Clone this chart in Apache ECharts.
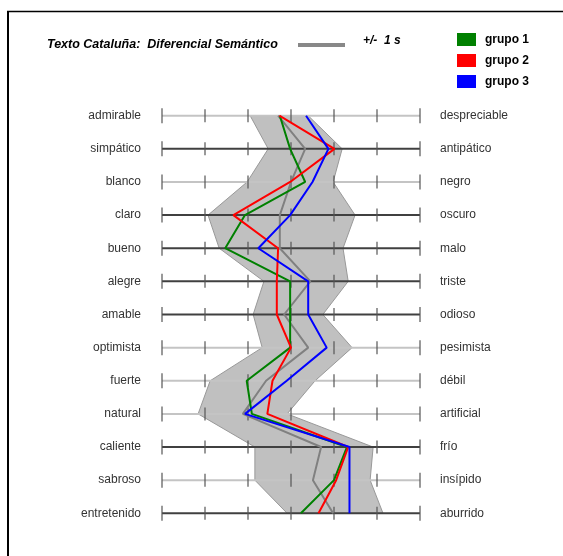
<!DOCTYPE html>
<html>
<head>
<meta charset="utf-8">
<script src="https://cdn.jsdelivr.net/npm/echarts@6/dist/echarts.min.js"></script>
<style>
html,body{margin:0;padding:0;background:#fff;}
#chart{width:563px;height:556px;}
</style>
</head>
<body>
<div id="chart"></div>
<script>
// ---- data ----
const leftLabels = ['admirable','simpático','blanco','claro','bueno','alegre','amable','optimista','fuerte','natural','caliente','sabroso','entretenido'];
const rightLabels = ['despreciable','antipático','negro','oscuro','malo','triste','odioso','pesimista','débil','artificial','frío','insípido','aburrido'];
const scaleTicks = [1, 2, 3, 4, 5, 6, 7];
const meanVals = [3.70, 4.33, 4.00, 3.74, 3.74, 4.45, 3.84, 4.40, 3.42, 2.88, 4.70, 4.51, 4.98];
const bandLow  = [3.05, 3.47, 2.98, 2.07, 2.33, 3.37, 3.12, 3.33, 2.12, 1.84, 3.16, 3.16, 3.91];
const bandHigh = [4.40, 5.19, 4.98, 5.49, 5.21, 5.33, 4.74, 5.42, 4.56, 3.91, 5.91, 5.84, 6.14];
const grupo1 = [3.74, 3.98, 4.33, 2.93, 2.47, 3.98, 3.98, 3.98, 2.97, 3.09, 5.30, 5.00, 4.23];
const grupo2 = [3.73, 5.01, 3.98, 2.66, 3.70, 3.67, 3.67, 4.00, 3.57, 3.45, 5.33, 5.05, 4.64];
const grupo3 = [4.35, 4.87, 4.50, 3.98, 3.24, 4.40, 4.40, 4.83, 3.90, 2.93, 5.36, 5.36, 5.36];

// ---- styles ----
const rowTone = ['light','dark','light','dark','dark','dark','dark','light','light','light','dark','light','dark'];
const toneColor = { light: '#c4c4c4', dark: '#404040' };
const FONT = '"Liberation Sans", Arial, sans-serif';

const chart = echarts.init(document.getElementById('chart'), null, { renderer: 'canvas' });

const option = {
  animation: false,
  backgroundColor: '#ffffff',
  grid: { left: 162, right: 143, top: 115.7, bottom: 42.7, containLabel: false },
  xAxis: { type: 'value', min: 1, max: 7, interval: 1, show: false },
  yAxis: [
    { type: 'category', data: leftLabels, inverse: true, boundaryGap: false, position: 'left',
      axisLine: { show: false }, axisTick: { show: false }, splitLine: { show: false },
      axisLabel: { margin: 21, fontSize: 12, color: '#333', fontFamily: FONT } },
    { type: 'category', data: rightLabels, inverse: true, boundaryGap: false, position: 'right',
      axisLine: { show: false }, axisTick: { show: false }, splitLine: { show: false },
      axisLabel: { margin: 20, fontSize: 12, color: '#333', fontFamily: FONT } }
  ],
  legend: {
    orient: 'vertical', left: 457, top: 33, padding: 0, itemWidth: 19, itemHeight: 13, itemGap: 8,
    icon: 'rect', data: ['grupo 1', 'grupo 2', 'grupo 3'],
    textStyle: { fontSize: 12, fontWeight: 'bold', color: '#000', fontFamily: FONT, padding: [0, 0, 0, 4] }
  },
  graphic: [
    { type: 'line', shape: { x1: 8, y1: 11, x2: 8, y2: 556 }, style: { stroke: '#000', lineWidth: 2 }, z: 100 },
    { type: 'line', shape: { x1: 7, y1: 11.5, x2: 563, y2: 11.5 }, style: { stroke: '#000', lineWidth: 1.5 }, z: 100 },
    { type: 'text', left: 47, top: 38, style: { text: 'Texto Cataluña:  Diferencial Semántico', font: 'italic bold 12.5px ' + FONT, fill: '#000' } },
    { type: 'rect', shape: { x: 298, y: 43, width: 47, height: 4 }, style: { fill: '#888' } },
    { type: 'text', left: 363, top: 35, style: { text: '+/-  1 s', font: 'italic bold 12px ' + FONT, fill: '#000' } }
  ],
  series: [
    {
      type: 'custom', name: 'band', yAxisIndex: 0, z: 1, silent: true,
      data: [[0]],
      renderItem: function (params, api) {
        const pts = [];
        for (let i = 0; i < bandLow.length; i++) pts.push(api.coord([bandLow[i], i]));
        for (let i = bandHigh.length - 1; i >= 0; i--) pts.push(api.coord([bandHigh[i], i]));
        return { type: 'polygon', shape: { points: pts }, style: { fill: '#c0c0c0', stroke: '#999', lineWidth: 1 } };
      }
    },
    {
      type: 'custom', name: 'rows', yAxisIndex: 0, z: 2, silent: true,
      data: leftLabels.map((_, i) => [i]),
      renderItem: function (params, api) {
        const i = api.value(0);
        const a = api.coord([scaleTicks[0], i]);
        const b = api.coord([scaleTicks[scaleTicks.length - 1], i]);
        const children = [{ type: 'line', shape: { x1: a[0], y1: a[1], x2: b[0], y2: b[1] },
          style: { stroke: toneColor[rowTone[i]], lineWidth: 2 } }];
        scaleTicks.forEach((t, k) => {
          const p = api.coord([t, i]);
          const h = (k === 0 || k === scaleTicks.length - 1) ? 7.5 : 6.5;
          children.push({ type: 'line', shape: { x1: p[0], y1: p[1] - h, x2: p[0], y2: p[1] + h },
            style: { stroke: '#555', lineWidth: 1.2 } });
        });
        return { type: 'group', children: children };
      }
    },
    { type: 'line', name: 'media', data: meanVals, yAxisIndex: 0, z: 3, symbol: 'none', silent: true,
      lineStyle: { color: '#808080', width: 2 } },
    { type: 'line', name: 'grupo 1', data: grupo1, yAxisIndex: 0, z: 4, symbol: 'none',
      color: '#008000', lineStyle: { color: '#008000', width: 2 } },
    { type: 'line', name: 'grupo 2', data: grupo2, yAxisIndex: 0, z: 5, symbol: 'none',
      color: '#ff0000', lineStyle: { color: '#ff0000', width: 2 } },
    { type: 'line', name: 'grupo 3', data: grupo3, yAxisIndex: 0, z: 6, symbol: 'none',
      color: '#0000ff', lineStyle: { color: '#0000ff', width: 2 } }
  ]
};
chart.setOption(option);
</script>
</body>
</html>
